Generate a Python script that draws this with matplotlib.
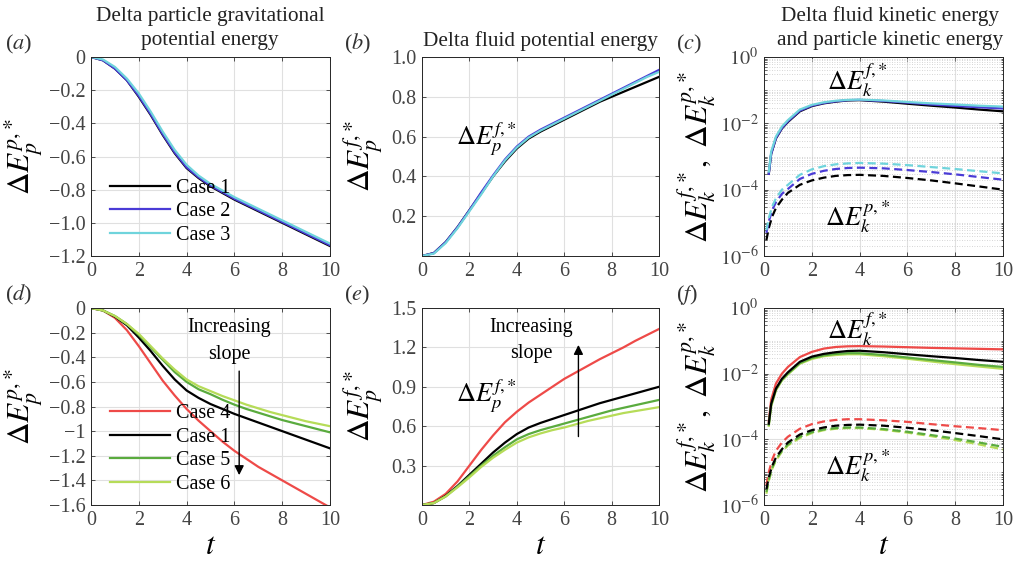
import numpy as np
import matplotlib
matplotlib.use("Agg")
import matplotlib.pyplot as plt
from matplotlib.ticker import FixedLocator, FixedFormatter, LogLocator, NullFormatter

plt.rcParams['font.family'] = ['Liberation Serif', 'DejaVu Serif']
plt.rcParams['mathtext.fontset'] = 'stix'

# ---------------- data ----------------
t_pot = [0, 0.5, 1, 1.5, 2, 2.5, 3, 3.5, 4, 4.5, 5, 5.5, 6, 6.5, 7, 7.5, 8, 8.5, 9, 9.5, 10]

case1_pp = [0, -0.02, -0.07, -0.14, -0.24, -0.35, -0.47, -0.58, -0.67, -0.73, -0.78, -0.82, -0.86, -0.895, -0.93, -0.965, -1.0, -1.035, -1.07, -1.105, -1.14]
case2_pp = [0, -0.02, -0.07, -0.14, -0.235, -0.345, -0.465, -0.575, -0.665, -0.725, -0.775, -0.815, -0.855, -0.89, -0.925, -0.96, -0.995, -1.03, -1.065, -1.1, -1.135]
case3_pp = [0, -0.015, -0.06, -0.13, -0.22, -0.33, -0.45, -0.56, -0.65, -0.715, -0.765, -0.805, -0.845, -0.88, -0.915, -0.95, -0.985, -1.02, -1.055, -1.09, -1.125]
case4_pp = [0, -0.02, -0.08, -0.18, -0.31, -0.45, -0.59, -0.71, -0.82, -0.915, -1.0, -1.085, -1.16, -1.225, -1.29, -1.345, -1.40, -1.455, -1.51, -1.565, -1.62]
case5_pp = [0, -0.02, -0.065, -0.13, -0.22, -0.32, -0.42, -0.52, -0.60, -0.66, -0.70, -0.745, -0.785, -0.82, -0.85, -0.88, -0.91, -0.935, -0.96, -0.985, -1.01]
case6_pp = [0, -0.02, -0.065, -0.13, -0.21, -0.31, -0.41, -0.50, -0.58, -0.635, -0.675, -0.715, -0.75, -0.785, -0.815, -0.845, -0.87, -0.895, -0.92, -0.94, -0.96]

case1_pf = [0, 0.015, 0.07, 0.145, 0.23, 0.315, 0.40, 0.475, 0.54, 0.59, 0.625, 0.655, 0.685, 0.715, 0.745, 0.775, 0.80, 0.825, 0.85, 0.875, 0.90]
case2_pf = [0, 0.015, 0.07, 0.145, 0.23, 0.32, 0.405, 0.485, 0.55, 0.60, 0.635, 0.665, 0.695, 0.725, 0.755, 0.785, 0.815, 0.845, 0.875, 0.905, 0.935]
case3_pf = [0, 0.012, 0.065, 0.14, 0.225, 0.31, 0.40, 0.48, 0.545, 0.595, 0.63, 0.66, 0.69, 0.72, 0.75, 0.78, 0.81, 0.84, 0.87, 0.90, 0.925]
case4_pf = [0, 0.025, 0.085, 0.18, 0.30, 0.42, 0.53, 0.63, 0.71, 0.78, 0.84, 0.90, 0.96, 1.01, 1.06, 1.11, 1.155, 1.20, 1.25, 1.295, 1.34]
case5_pf = [0, 0.015, 0.065, 0.14, 0.22, 0.30, 0.375, 0.44, 0.50, 0.54, 0.57, 0.595, 0.62, 0.645, 0.67, 0.695, 0.72, 0.74, 0.76, 0.78, 0.80]
case6_pf = [0, 0.015, 0.065, 0.135, 0.21, 0.29, 0.36, 0.42, 0.475, 0.515, 0.545, 0.57, 0.59, 0.615, 0.64, 0.66, 0.68, 0.70, 0.715, 0.73, 0.745]

t_kf = [0.2, 0.3, 0.5, 0.75, 1, 1.5, 2, 2.5, 3, 3.5, 4, 5, 6, 7, 8, 9, 10]
case1_kf = [3e-4, 1.2e-3, 3.5e-3, 7e-3, 1.1e-2, 2.3e-2, 3.3e-2, 4.0e-2, 4.5e-2, 4.9e-2, 5.0e-2, 4.5e-2, 3.9e-2, 3.4e-2, 3.0e-2, 2.6e-2, 2.3e-2]
case2_kf = [3e-4, 1.2e-3, 3.6e-3, 7.2e-3, 1.15e-2, 2.4e-2, 3.4e-2, 4.1e-2, 4.6e-2, 5.0e-2, 5.1e-2, 4.7e-2, 4.2e-2, 3.7e-2, 3.35e-2, 3.05e-2, 2.8e-2]
case3_kf = [3.5e-4, 1.4e-3, 4e-3, 8e-3, 1.25e-2, 2.6e-2, 3.6e-2, 4.3e-2, 4.8e-2, 5.1e-2, 5.2e-2, 4.9e-2, 4.4e-2, 4.0e-2, 3.7e-2, 3.4e-2, 3.2e-2]
case4_kf = [3.5e-4, 1.6e-3, 5e-3, 1.0e-2, 1.6e-2, 3.2e-2, 4.6e-2, 5.8e-2, 6.5e-2, 6.8e-2, 6.9e-2, 6.7e-2, 6.4e-2, 6.1e-2, 5.9e-2, 5.7e-2, 5.5e-2]
case5_kf = [2.8e-4, 1.1e-3, 3.3e-3, 6.5e-3, 1.0e-2, 2.1e-2, 3.0e-2, 3.6e-2, 4.0e-2, 4.2e-2, 4.2e-2, 3.7e-2, 3.1e-2, 2.6e-2, 2.2e-2, 1.85e-2, 1.6e-2]
case6_kf = [2.6e-4, 1.0e-3, 3.1e-3, 6.2e-3, 9.5e-3, 2.0e-2, 2.8e-2, 3.4e-2, 3.7e-2, 3.9e-2, 3.9e-2, 3.4e-2, 2.85e-2, 2.35e-2, 1.95e-2, 1.65e-2, 1.4e-2]

t_kp = [0.1, 0.2, 0.35, 0.5, 0.75, 1, 1.5, 2, 2.5, 3, 3.5, 4, 5, 6, 7, 8, 9, 10]
case1_kp = [3e-6, 7e-6, 1.6e-5, 2.8e-5, 5e-5, 8e-5, 1.4e-4, 1.9e-4, 2.3e-4, 2.6e-4, 2.75e-4, 2.8e-4, 2.6e-4, 2.25e-4, 1.9e-4, 1.55e-4, 1.25e-4, 1.0e-4]
case2_kp = [5e-6, 1.1e-5, 2.5e-5, 4.2e-5, 7.5e-5, 1.05e-4, 2.1e-4, 3.0e-4, 3.7e-4, 4.2e-4, 4.5e-4, 4.6e-4, 4.4e-4, 3.9e-4, 3.4e-4, 2.9e-4, 2.4e-4, 2.0e-4]
case3_kp = [6e-6, 1.4e-5, 3.2e-5, 5.5e-5, 1.0e-4, 1.4e-4, 2.8e-4, 4.1e-4, 5.1e-4, 5.8e-4, 6.2e-4, 6.4e-4, 6.1e-4, 5.5e-4, 4.8e-4, 4.2e-4, 3.6e-4, 3.1e-4]
case4_kp = [4e-6, 1e-5, 2.5e-5, 4.5e-5, 8e-5, 1.2e-4, 2.1e-4, 2.9e-4, 3.5e-4, 3.9e-4, 4.1e-4, 4.1e-4, 3.8e-4, 3.4e-4, 2.9e-4, 2.5e-4, 2.2e-4, 1.9e-4]
case5_kp = [2.5e-6, 6e-6, 1.4e-5, 2.5e-5, 4.5e-5, 7e-5, 1.2e-4, 1.65e-4, 2.0e-4, 2.2e-4, 2.3e-4, 2.3e-4, 2.05e-4, 1.7e-4, 1.35e-4, 1.05e-4, 8e-5, 5.9e-5]
case6_kp = [2.2e-6, 5.5e-6, 1.3e-5, 2.3e-5, 4.2e-5, 6.5e-5, 1.1e-4, 1.55e-4, 1.9e-4, 2.1e-4, 2.2e-4, 2.2e-4, 1.95e-4, 1.6e-4, 1.25e-4, 9.5e-5, 7e-5, 4.9e-5]

x_ticks = [0, 2, 4, 6, 8, 10]
x_labels = ['0', '2', '4', '6', '8', '10']
a_yticks = [0, -0.2, -0.4, -0.6, -0.8, -1.0, -1.2]
a_ylabels = ['0', '\u22120.2', '\u22120.4', '\u22120.6', '\u22120.8', '\u22121.0', '\u22121.2']
d_yticks = [0, -0.2, -0.4, -0.6, -0.8, -1.0, -1.2, -1.4, -1.6]
d_ylabels = ['0', '\u22120.2', '\u22120.4', '\u22120.6', '\u22120.8', '\u22121', '\u22121.2', '\u22121.4', '\u22121.6']
b_yticks = [0.2, 0.4, 0.6, 0.8, 1.0]
b_ylabels = ['0.2', '0.4', '0.6', '0.8', '1.0']
e_yticks = [0.3, 0.6, 0.9, 1.2, 1.5]
e_ylabels = ['0.3', '0.6', '0.9', '1.2', '1.5']
log_yticks = [1e-6, 1e-4, 1e-2, 1e0]
log_ylabels = [r'$10^{-6}$', r'$10^{-4}$', r'$10^{-2}$', r'$10^{0}$']

C1 = '#000000'
C2 = '#4a3bd6'
C3 = '#6fd4dc'
C4 = '#ee4a48'
C5 = '#5aab3e'
C6 = '#b6dc58'

# ---------------- figure ----------------
W, H = 1017, 561
fig = plt.figure(figsize=(W / 100, H / 100), dpi=100)

def ax_at(l, r, t, b):
    return fig.add_axes([l / W, (H - b) / H, (r - l) / W, (b - t) / H])

axa = ax_at(91, 330, 57, 256)
axb = ax_at(422, 659, 57, 256)
axc = ax_at(764, 1003, 57, 256)
axd = ax_at(91, 330, 308, 505)
axe = ax_at(422, 659, 308, 505)
axf = ax_at(764, 1003, 308, 505)

TICK_FS = 14.5
TICK_COL = '#444444'
LW = 1.6

def style(ax, log=False):
    ax.set_xlim(0, 10)
    ax.xaxis.set_major_locator(FixedLocator(x_ticks))
    ax.xaxis.set_major_formatter(FixedFormatter(x_labels))
    ax.tick_params(which='both', direction='in', top=True, right=True,
                   labelsize=TICK_FS, labelcolor=TICK_COL, color='#333333')
    ax.tick_params(which='major', length=3, width=0.6, pad=4)
    ax.tick_params(which='minor', length=1.8, width=0.5)
    for s in ax.spines.values():
        s.set_color('#262626')
        s.set_linewidth(0.7)
    ax.grid(True, which='major', color='#e0e0e0', linewidth=0.8)
    ax.set_axisbelow(True)
    if log:
        ax.set_yscale('log')
        ax.set_ylim(1e-6, 1)
        ax.yaxis.set_major_locator(FixedLocator(log_yticks))
        ax.yaxis.set_major_formatter(FixedFormatter(log_ylabels))
        ax.yaxis.set_minor_locator(LogLocator(base=10, subs=np.arange(1, 10), numticks=20))
        ax.yaxis.set_minor_formatter(NullFormatter())
        ax.grid(True, which='minor', axis='y', color='#c8c8c8', linewidth=0.6, linestyle=(0, (1, 2)))

for ax in (axa, axb, axc, axd, axe, axf):
    style(ax, log=ax in (axc, axf))

YL_FS = 22.5
ANN_FS = 19
DASH = (0, (3.6, 2.0))
LEG = dict(loc='lower left', frameon=False, fontsize=14.5, handlelength=3.0,
           handletextpad=0.3, labelspacing=0.22, borderpad=0.2)

# (a)
axa.plot(t_pot, case1_pp, color=C1, lw=LW, label='Case 1')
axa.plot(t_pot, case2_pp, color=C2, lw=LW, label='Case 2')
axa.plot(t_pot, case3_pp, color=C3, lw=LW, label='Case 3')
axa.set_ylim(-1.2, 0)
axa.yaxis.set_major_locator(FixedLocator(a_yticks))
axa.yaxis.set_major_formatter(FixedFormatter(a_ylabels))
axa.set_ylabel(r'$\Delta E_p^{p,\!*}$', fontsize=YL_FS, labelpad=2)
axa.legend(bbox_to_anchor=(0.02, -0.015), **LEG)

# (b)
axb.plot(t_pot, case1_pf, color=C1, lw=LW)
axb.plot(t_pot, case2_pf, color=C2, lw=LW)
axb.plot(t_pot, case3_pf, color=C3, lw=LW)
axb.set_ylim(0, 1.0)
axb.yaxis.set_major_locator(FixedLocator(b_yticks))
axb.yaxis.set_major_formatter(FixedFormatter(b_ylabels))
axb.set_ylabel(r'$\Delta E_p^{f,\!*}$', fontsize=YL_FS, labelpad=4)
axb.text(2.72, 0.585, r'$\Delta E_p^{f,\!*}$', fontsize=ANN_FS, ha='center', va='center')

# (c)
for kf, kp, c in ((case1_kf, case1_kp, C1), (case2_kf, case2_kp, C2), (case3_kf, case3_kp, C3)):
    axc.plot(t_kf, kf, color=c, lw=LW)
    axc.plot(t_kp, kp, color=c, lw=LW, linestyle=DASH)
axc.set_ylabel(r'$\Delta E_k^{f,\!*},\ \Delta E_k^{p,\!*}$', fontsize=YL_FS, labelpad=1)
axc.text(3.9, 0.2, r'$\Delta E_k^{f,\!*}$', fontsize=ANN_FS, ha='center', va='center')
axc.text(3.9, 1.6e-5, r'$\Delta E_k^{p,\!*}$', fontsize=ANN_FS, ha='center', va='center')

# (d)
axd.plot(t_pot, case4_pp, color=C4, lw=LW, label='Case 4')
axd.plot(t_pot, case1_pp, color=C1, lw=LW, label='Case 1')
axd.plot(t_pot, case5_pp, color=C5, lw=LW, label='Case 5')
axd.plot(t_pot, case6_pp, color=C6, lw=LW, label='Case 6')
axd.set_ylim(-1.6, 0)
axd.yaxis.set_major_locator(FixedLocator(d_yticks))
axd.yaxis.set_major_formatter(FixedFormatter(d_ylabels))
axd.set_ylabel(r'$\Delta E_p^{p,\!*}$', fontsize=YL_FS, labelpad=2)
axd.set_xlabel(r'$t$', fontsize=YL_FS, labelpad=2)
axd.legend(bbox_to_anchor=(0.02, -0.015), **LEG)
axd.text(5.8, -0.16, 'Increasing', fontsize=14.5, ha='center', va='center')
axd.text(5.8, -0.38, 'slope', fontsize=14.5, ha='center', va='center')
axd.annotate('', xy=(6.2, -1.38), xytext=(6.2, -0.49),
             arrowprops=dict(arrowstyle='-|>', color='black', lw=1.0, mutation_scale=14))

# (e)
axe.plot(t_pot, case4_pf, color=C4, lw=LW)
axe.plot(t_pot, case1_pf, color=C1, lw=LW)
axe.plot(t_pot, case5_pf, color=C5, lw=LW)
axe.plot(t_pot, case6_pf, color=C6, lw=LW)
axe.set_ylim(0, 1.5)
axe.yaxis.set_major_locator(FixedLocator(e_yticks))
axe.yaxis.set_major_formatter(FixedFormatter(e_ylabels))
axe.set_ylabel(r'$\Delta E_p^{f,\!*}$', fontsize=YL_FS, labelpad=4)
axe.set_xlabel(r'$t$', fontsize=YL_FS, labelpad=2)
axe.text(2.72, 0.83, r'$\Delta E_p^{f,\!*}$', fontsize=ANN_FS, ha='center', va='center')
axe.text(4.6, 1.35, 'Increasing', fontsize=14.5, ha='center', va='center')
axe.text(4.6, 1.15, 'slope', fontsize=14.5, ha='center', va='center')
axe.annotate('', xy=(6.6, 1.24), xytext=(6.6, 0.5),
             arrowprops=dict(arrowstyle='-|>', color='black', lw=1.0, mutation_scale=14))

# (f)
for kf, kp, c in ((case4_kf, case4_kp, C4), (case6_kf, case6_kp, C6),
                  (case5_kf, case5_kp, C5), (case1_kf, case1_kp, C1)):
    axf.plot(t_kf, kf, color=c, lw=LW)
    axf.plot(t_kp, kp, color=c, lw=LW, linestyle=DASH)
axf.set_ylabel(r'$\Delta E_k^{f,\!*},\ \Delta E_k^{p,\!*}$', fontsize=YL_FS, labelpad=1)
axf.set_xlabel(r'$t$', fontsize=YL_FS, labelpad=2)
axf.text(3.9, 0.22, r'$\Delta E_k^{f,\!*}$', fontsize=ANN_FS, ha='center', va='center')
axf.text(3.9, 1.6e-5, r'$\Delta E_k^{p,\!*}$', fontsize=ANN_FS, ha='center', va='center')

# titles & panel labels
TITLE_FS = 15.3
TCOL = '#222222'
fig.text(210 / W, 1 - 16 / H, 'Delta particle gravitational', fontsize=TITLE_FS, ha='center', va='center', color=TCOL)
fig.text(210 / W, 1 - 41 / H, 'potential energy', fontsize=TITLE_FS, ha='center', va='center', color=TCOL)
fig.text(540 / W, 1 - 41 / H, 'Delta fluid potential energy', fontsize=TITLE_FS, ha='center', va='center', color=TCOL)
fig.text(890 / W, 1 - 16 / H, 'Delta fluid kinetic energy', fontsize=TITLE_FS, ha='center', va='center', color=TCOL)
fig.text(890 / W, 1 - 41 / H, 'and particle kinetic energy', fontsize=TITLE_FS, ha='center', va='center', color=TCOL)

PL_FS = 16
for lab, x, y in (('a', 5, 44), ('b', 344, 44), ('c', 676, 44),
                  ('d', 5, 295), ('e', 344, 295), ('f', 676, 295)):
    fig.text(x / W, 1 - y / H, '($%s$)' % lab, fontsize=PL_FS, ha='left', va='center', color='#333333')

fig.savefig('out.png', dpi=100)
